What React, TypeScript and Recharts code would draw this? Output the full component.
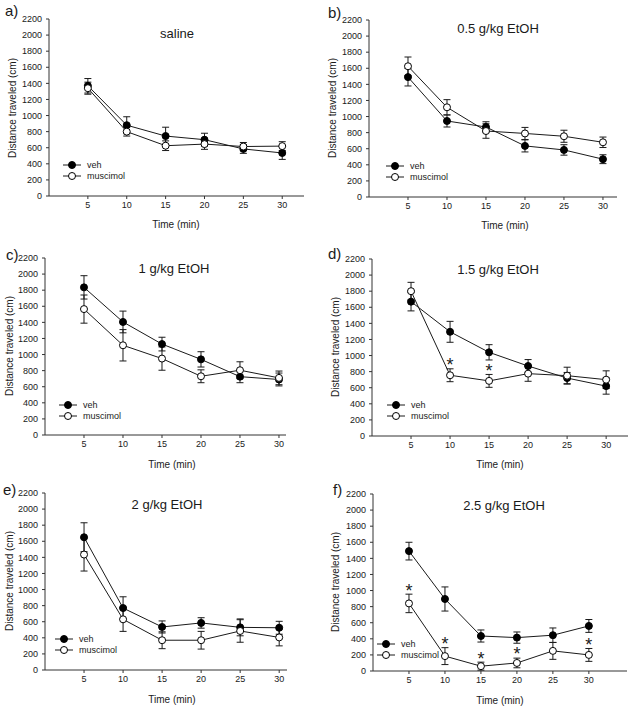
import React from 'react';
import { LineChart, Line, XAxis, YAxis, ErrorBar } from 'recharts';

const FONT = '"Liberation Sans", Arial, sans-serif';
const INK = '#1a1a1a';

const times = [5, 10, 15, 20, 25, 30];
const xTicks = [5, 10, 15, 20, 25, 30];
const yTicks = [0, 200, 400, 600, 800, 1000, 1200, 1400, 1600, 1800, 2000, 2200];
const seriesNames = ['veh', 'muscimol'];
const xLabel = 'Time (min)';
const yLabel = 'Distance traveled (cm)';

// a) saline
const salineVeh = [1370, 880, 745, 700, 585, 535];
const salineVehErr = [90, 105, 110, 80, 55, 80];
const salineMus = [1340, 800, 625, 645, 615, 620];
const salineMusErr = [75, 55, 60, 65, 50, 55];
const salineStars = [false, false, false, false, false, false];

// b) 0.5 g/kg
const e05Veh = [1490, 945, 870, 635, 585, 470];
const e05VehErr = [110, 75, 65, 75, 65, 55];
const e05Mus = [1625, 1115, 820, 790, 755, 680];
const e05MusErr = [115, 95, 90, 75, 75, 65];
const e05Stars = [false, false, false, false, false, false];

// c) 1 g/kg
const e1Veh = [1835, 1405, 1130, 940, 725, 690];
const e1VehErr = [145, 135, 85, 95, 75, 80];
const e1Mus = [1565, 1115, 950, 730, 805, 710];
const e1MusErr = [175, 195, 145, 80, 105, 85];
const e1Stars = [false, false, false, false, false, false];

// d) 1.5 g/kg
const e15Veh = [1670, 1295, 1040, 870, 720, 620];
const e15VehErr = [115, 130, 95, 80, 70, 100];
const e15Mus = [1800, 755, 685, 775, 750, 700];
const e15MusErr = [110, 80, 80, 95, 105, 110];
const e15Stars = [false, true, true, false, false, false];

// e) 2 g/kg
const e2Veh = [1650, 770, 535, 585, 530, 525];
const e2VehErr = [180, 140, 75, 65, 105, 80];
const e2Mus = [1435, 630, 370, 370, 485, 405];
const e2MusErr = [205, 150, 105, 110, 140, 105];
const e2Stars = [false, false, false, false, false, false];

// f) 2.5 g/kg
const e25Veh = [1490, 895, 435, 415, 445, 560];
const e25VehErr = [110, 150, 75, 70, 90, 80];
const e25Mus = [840, 185, 60, 100, 250, 200];
const e25MusErr = [115, 105, 50, 60, 105, 80];
const e25Stars = [true, true, true, true, false, true];

const STAR_GAP = 95;

function buildTable(veh: number[], vehErr: number[], mus: number[], musErr: number[], stars: boolean[]) {
  return times.map((t, i) => ({
    t,
    veh: veh[i],
    vehErr: vehErr[i],
    mus: mus[i],
    musErr: musErr[i],
    star: stars[i] ? mus[i] + musErr[i] + STAR_GAP : null,
  }));
}

const panels = [
  { letter: 'a)', title: 'saline', data: buildTable(salineVeh, salineVehErr, salineMus, salineMusErr, salineStars),
    pl: 49, pr: 304, pt: 19, pb: 196, xMax: 32.8, letterPos: [5, 10], titlePos: [177, 33], yLab: [12, 108], xLab: [176, 224], leg: [63, 165] },
  { letter: 'b)', title: '0.5 g/kg EtOH', data: buildTable(e05Veh, e05VehErr, e05Mus, e05MusErr, e05Stars),
    pl: 369, pr: 617, pt: 20, pb: 197, xMax: 31.8, letterPos: [328, 12], titlePos: [498, 28], yLab: [332, 108], xLab: [505, 225], leg: [386, 166] },
  { letter: 'c)', title: '1 g/kg EtOH', data: buildTable(e1Veh, e1VehErr, e1Mus, e1MusErr, e1Stars),
    pl: 45, pr: 286, pt: 258, pb: 435, xMax: 30.9, letterPos: [6, 254], titlePos: [174, 268], yLab: [9, 346], xLab: [172, 464], leg: [59, 405] },
  { letter: 'd)', title: '1.5 g/kg EtOH', data: buildTable(e15Veh, e15VehErr, e15Mus, e15MusErr, e15Stars),
    pl: 372, pr: 628, pt: 259, pb: 436, xMax: 32.8, letterPos: [328, 253], titlePos: [498, 269], yLab: [335, 347], xLab: [500, 464], leg: [387, 405] },
  { letter: 'e)', title: '2 g/kg EtOH', data: buildTable(e2Veh, e2VehErr, e2Mus, e2MusErr, e2Stars),
    pl: 45, pr: 287, pt: 493, pb: 670, xMax: 31.0, letterPos: [3, 489], titlePos: [167, 504], yLab: [9, 581], xLab: [172, 699], leg: [55, 639] },
  { letter: 'f)', title: '2.5 g/kg EtOH', data: buildTable(e25Veh, e25VehErr, e25Mus, e25MusErr, e25Stars),
    pl: 373, pr: 627, pt: 494, pb: 671, xMax: 35.3, letterPos: [333, 489], titlePos: [504, 505], yLab: [335, 582], xLab: [500, 700], leg: [377, 644] },
];

const YW = 45;
const XH = 22;
const MT = 12;
const MR = 2;

const StarDot = (props: any) => {
  const { cx, cy, index, payload } = props;
  if (payload == null || payload.star == null || cy == null || isNaN(cy)) {
    return <g key={`s${index}`} />;
  }
  return (
    <text key={`s${index}`} x={cx} y={cy + 10} textAnchor="middle" fontSize={18} fontFamily={FONT} fill={INK}>
      *
    </text>
  );
};

const tickStyle = { fontSize: 9, fill: INK, fontFamily: FONT };

function Panel({ p }: { p: any }) {
  const width = p.pr - p.pl + YW + MR;
  const height = p.pb - p.pt + MT + XH;
  return (
    <div style={{ position: 'absolute', left: p.pl - YW, top: p.pt - MT, width, height }}>
      <LineChart width={width} height={height} data={p.data} margin={{ top: MT, right: MR, bottom: 0, left: 0 }}>
        <XAxis
          type="number"
          dataKey="t"
          domain={[0, p.xMax]}
          ticks={xTicks}
          interval={0}
          tickSize={3}
          tickMargin={3}
          height={XH}
          stroke="#333"
          tick={tickStyle}
          allowDataOverflow
        />
        <YAxis
          type="number"
          domain={[0, 2200]}
          ticks={yTicks}
          interval={0}
          tickSize={3}
          tickMargin={4}
          width={YW}
          stroke="#333"
          tick={tickStyle}
        />
        <Line
          dataKey="veh"
          stroke={INK}
          strokeWidth={1}
          isAnimationActive={false}
          dot={{ r: 3.5, fill: '#000', stroke: '#000', strokeWidth: 1 }}
          activeDot={false}
        >
          <ErrorBar dataKey="vehErr" width={3.5} stroke={INK} strokeWidth={1} direction="y" />
        </Line>
        <Line
          dataKey="mus"
          stroke={INK}
          strokeWidth={1}
          isAnimationActive={false}
          dot={{ r: 3.5, fill: '#fff', stroke: '#000', strokeWidth: 1 }}
          activeDot={false}
        >
          <ErrorBar dataKey="musErr" width={3.5} stroke={INK} strokeWidth={1} direction="y" />
        </Line>
        <Line
          dataKey="star"
          stroke="none"
          isAnimationActive={false}
          dot={StarDot}
          activeDot={false}
          connectNulls={false}
        />
      </LineChart>
    </div>
  );
}

function Overlay() {
  return (
    <svg width={630} height={708} style={{ position: 'absolute', left: 0, top: 0, pointerEvents: 'none' }}>
      {panels.map((p, k) => (
        <g key={k} fontFamily={FONT} fill={INK}>
          <text x={p.letterPos[0]} y={p.letterPos[1]} fontSize={15} dominantBaseline="central">{p.letter}</text>
          <text x={p.titlePos[0]} y={p.titlePos[1]} fontSize={13} textAnchor="middle" dominantBaseline="central">{p.title}</text>
          <text
            x={p.yLab[0]}
            y={p.yLab[1]}
            fontSize={10}
            textAnchor="middle"
            dominantBaseline="central"
            transform={`rotate(-90 ${p.yLab[0]} ${p.yLab[1]})`}
          >
            {yLabel}
          </text>
          <text x={p.xLab[0]} y={p.xLab[1]} fontSize={10} textAnchor="middle" dominantBaseline="central">{xLabel}</text>
          {seriesNames.map((name, i) => {
            const y = p.leg[1] + i * 11;
            const x0 = p.leg[0];
            return (
              <g key={name}>
                <line x1={x0} x2={x0 + 18} y1={y} y2={y} stroke={INK} strokeWidth={1} />
                <circle cx={x0 + 9} cy={y} r={3.5} fill={i === 0 ? '#000' : '#fff'} stroke="#000" strokeWidth={1} />
                <text x={x0 + 24} y={y} fontSize={9} dominantBaseline="central">{name}</text>
              </g>
            );
          })}
        </g>
      ))}
    </svg>
  );
}

export default function App() {
  return (
    <div style={{ position: 'absolute', left: 0, top: 0, width: 630, height: 708, background: '#fff' }}>
      {panels.map((p, k) => (
        <Panel key={k} p={p} />
      ))}
      <Overlay />
    </div>
  );
}
